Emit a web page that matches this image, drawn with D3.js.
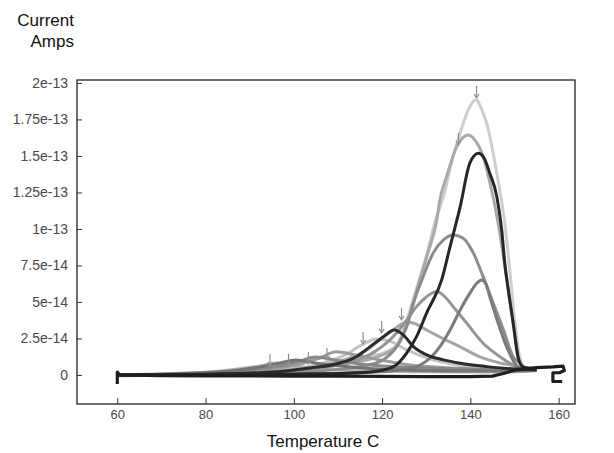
<!DOCTYPE html>
<html>
<head>
<meta charset="utf-8">
<script src="https://cdn.jsdelivr.net/npm/d3@7/dist/d3.min.js"></script>
<style>
  body { margin: 0; background: #fff; }
  svg { display: block; font-family: "Liberation Sans", Arial, sans-serif; }
</style>
</head>
<body>
<div id="chart"></div>
<script>
// current values are in units of 1e-14 A, temperature in C
const xTicks = [60, 80, 100, 120, 140, 160];
const yTicks = [0, 2.5, 5, 7.5, 10, 12.5, 15, 17.5, 20];
const yTickLabels = ["0", "2.5e-14", "5e-14", "7.5e-14", "1e-13", "1.25e-13", "1.5e-13", "1.75e-13", "2e-13"];

const run1 = [[60,-0.05],[78.7,0],[92.3,0.14],[103.7,0.41],[111.6,0.82],[117.3,1.3],[121,1.6],[123.4,2.1],[125.6,3.77],[127.9,6.03],[130.2,8.36],[132.0,10.48],[133.9,12.21],[136.1,14.95],[138.4,17.24],[139.9,18.38],[141.3,18.84],[142.6,18.15],[143.7,17.24],[146.0,13.82],[147.8,10.39],[149.0,6.97],[150.1,3.54],[151.2,1.25],[152.6,0.4],[155,0.35]];
const run2 = [[60,-0.05],[80,0],[95,0.2],[105,0.5],[112.7,0.82],[119.5,1.3],[123.6,2.05],[125.9,3.77],[128.1,6.03],[130.4,8.36],[132.4,10.62],[133.1,12.0],[134.6,13.58],[136.9,15.64],[138.3,16.25],[139.5,16.44],[141.0,16.1],[142.9,14.95],[144.8,12.67],[146.3,10.39],[147.5,8.1],[148.6,5.82],[149.7,3.54],[150.9,1.25],[152,0.45],[155,0.35]];
const run3 = [[60,0],[80,0.02],[95,0.05],[105,0.08],[112,0.12],[117.3,0.2],[122.5,0.55],[125.6,1.51],[127.8,2.62],[130.1,4.25],[133.5,6.51],[135.4,8.79],[137.7,11.53],[139.9,14.52],[141.8,15.18],[143.1,14.86],[144.4,13.82],[146.0,12.21],[147.1,9.93],[147.8,7.65],[148.6,5.82],[149.7,3.56],[150.8,1.23],[151.9,0.55],[155,0.4]];
const run4 = [[60,0],[80,0.02],[95,0.1],[105,0.25],[112,0.45],[117,0.7],[120.2,1.03],[123.3,1.94],[125.6,3.31],[127.1,4.91],[129.3,6.73],[131.6,8.36],[133.9,9.25],[136.1,9.59],[138.3,9.38],[140.7,8.34],[142.9,6.73],[145.2,4.91],[147.5,3.08],[149.7,1.25],[151.2,0.82],[152.5,0.5],[155,0.4]];
const run5 = [[60,0],[80,0],[100,0.05],[115,0.15],[124.0,0.34],[128.6,0.68],[130.9,1.16],[133.1,1.94],[135.4,3.08],[137.7,4.45],[139.9,5.6],[141.5,6.3],[142.6,6.51],[143.5,6.25],[144.4,5.36],[146.3,3.54],[148.2,1.94],[150.1,0.8],[151.5,0.4],[155,0.35]];
const run6 = [[60,0],[80,0.02],[95,0.15],[105,0.45],[113.9,0.96],[117.9,1.51],[121.0,2.19],[123.3,2.88],[125.6,3.77],[127.8,4.68],[130.1,5.36],[132.4,5.71],[134.5,5.27],[136.1,4.68],[139.2,3.54],[142.9,2.17],[146.7,1.25],[150.5,0.57],[152.5,0.4],[155,0.35]];
const run7 = [[60,0],[80,0.05],[95,0.25],[105.9,0.62],[112.7,1.16],[116.5,1.71],[119.5,2.4],[122.5,3.08],[125.6,3.63],[127.7,3.49],[130.1,3.08],[133.1,2.6],[137.7,1.92],[142.2,1.23],[146.7,0.82],[150.1,0.62],[152.5,0.4],[155,0.35]];
const run8 = [[60,0],[80,0.05],[95,0.2],[103.7,0.48],[110.5,0.82],[114.2,1.25],[117.3,1.94],[120.3,2.62],[122.7,3.08],[124.8,2.74],[127.1,1.94],[130.1,1.37],[133.9,1.03],[137.7,0.8],[143.7,0.57],[147.5,0.46],[151,0.4],[155,0.35]];
const run9 = [[60,0],[80,0.08],[96.9,0.34],[105.9,0.75],[111.6,1.37],[115.0,1.99],[118.8,2.47],[122.2,2.26],[125.6,1.71],[130.2,1.16],[135.8,0.75],[142.6,0.48],[149.7,0.34],[155,0.3]];
const run10 = [[60,0],[80,0.08],[94.6,0.41],[101.4,0.75],[105.9,1.16],[109.6,1.58],[113.9,1.37],[119.5,1.03],[126.3,0.68],[135.4,0.48],[146.7,0.34],[155,0.3]];
const run11 = [[60,0],[80,0.06],[90.1,0.34],[96.9,0.62],[101.4,0.96],[105.0,1.23],[109.3,1.03],[115.0,0.75],[124.1,0.55],[137.7,0.41],[149,0.34],[155,0.3]];
const run12 = [[60,0],[85.5,0.27],[92.3,0.55],[96.9,0.82],[100.5,1.03],[104.8,0.82],[110.5,0.62],[119.5,0.41],[135.4,0.27],[149,0.27],[155,0.3]];
const run13 = [[60,0],[78.7,0.14],[85.5,0.34],[92.3,0.62],[96.2,0.82],[100.3,0.62],[105.9,0.41],[117.3,0.27],[135.4,0.21],[149,0.21],[155,0.3]];
// flat reference trace, including the start tick and the hook at the end
const run0 = [[60,-0.62],[60,0.2],[60.5,0],[70,-0.05],[80,-0.07],[90,-0.07],[100,-0.08],[110,-0.08],[120,-0.1],[130,-0.12],[140,-0.12],[145,-0.08],[147.5,0.1],[150,0.32],[152,0.42],[155,0.5],[158.7,0.55],[161,0.6],[161.3,0.3],[160.2,0.15],[158.7,0.15],[158.7,-0.45],[160.8,-0.45]];

// peak markers (arrow tips)
const arrowTips = [[94.6,0.62],[98.8,0.64],[103.3,0.75],[107.5,1.03],[115.7,2.12],[119.9,2.88],[124.4,3.77],[137.3,15.75],[141.4,18.97]];

// drawn light to dark
const peakRuns = [run1, run9, run13, run2, run7, run10, run6, run4, run11, run5, run12, run8, run3];
const peakColors = ["#cecece", "#c4c4c4", "#b2b2b2", "#a9a9a9", "#a5a5a5", "#9c9c9c", "#959595", "#8c8c8c", "#878787", "#7b7b7b", "#747474", "#2b2b2b", "#262626"];

const W = 614, H = 453;
const margin = { top: 80, right: 39, bottom: 49, left: 77 };
const width = W - margin.left - margin.right;
const height = H - margin.top - margin.bottom;

const svg = d3.select("#chart").append("svg")
  .attr("width", W)
  .attr("height", H);

const g = svg.append("g")
  .attr("transform", `translate(${margin.left},${margin.top})`);

const xScale = d3.scaleLinear().domain([50.87, 163.71]).range([0, width]);
const yScale = d3.scaleLinear().domain([-1.99, 20.2]).range([height, 0]);

const line = d3.line()
  .x(d => xScale(d[0]))
  .y(d => yScale(d[1]))
  .curve(d3.curveMonotoneX);

g.selectAll(".run")
  .data(peakRuns)
  .enter().append("path")
  .attr("class", "run")
  .attr("d", line)
  .attr("fill", "none")
  .attr("stroke", (d, i) => peakColors[i])
  .attr("stroke-width", 3)
  .attr("stroke-linejoin", "round");

g.append("path")
  .datum(run0)
  .attr("d", line.curve(d3.curveLinear))
  .attr("fill", "none")
  .attr("stroke", "#1e1e1e")
  .attr("stroke-width", 3.2)
  .attr("stroke-linejoin", "round");

// little down arrows over the peaks
const arrows = g.selectAll(".arrow")
  .data(arrowTips)
  .enter().append("g")
  .attr("class", "arrow")
  .attr("transform", d => `translate(${xScale(d[0])},${yScale(d[1])})`)
  .attr("stroke", "#8f8f8f")
  .attr("stroke-width", 1.2)
  .attr("fill", "none");

arrows.append("line").attr("x1", 0).attr("y1", -12).attr("x2", 0).attr("y2", 0);
arrows.append("path").attr("d", "M-2.5,-4L0,0L2.5,-4");

// axes, ticks inside the frame
const xAxis = g.append("g")
  .attr("transform", `translate(0,${height})`)
  .call(d3.axisBottom(xScale).tickValues(xTicks).tickSize(-6).tickPadding(6));

const yAxis = g.append("g")
  .call(d3.axisLeft(yScale).tickValues(yTicks).tickSize(-5).tickPadding(9)
    .tickFormat((d, i) => yTickLabels[i]));

[xAxis, yAxis].forEach(a => {
  a.select(".domain").remove();
  a.selectAll(".tick line").attr("stroke", "#333");
  a.selectAll("text").attr("fill", "#4a4a4a").style("font-family", "Liberation Sans, Arial, sans-serif");
});
xAxis.selectAll("text").style("font-size", "13px");
yAxis.selectAll("text").style("font-size", "14px");

g.append("rect")
  .attr("width", width)
  .attr("height", height)
  .attr("fill", "none")
  .attr("stroke", "#222")
  .attr("stroke-width", 1.3);

svg.append("text")
  .attr("x", 323)
  .attr("y", 447)
  .attr("text-anchor", "middle")
  .style("font-size", "17px")
  .attr("fill", "#111")
  .text("Temperature C");

svg.append("text")
  .attr("x", 74)
  .attr("y", 26)
  .attr("text-anchor", "end")
  .style("font-size", "17px")
  .attr("fill", "#111")
  .text("Current");

svg.append("text")
  .attr("x", 74)
  .attr("y", 47)
  .attr("text-anchor", "end")
  .style("font-size", "17px")
  .attr("fill", "#111")
  .text("Amps");
</script>
</body>
</html>
